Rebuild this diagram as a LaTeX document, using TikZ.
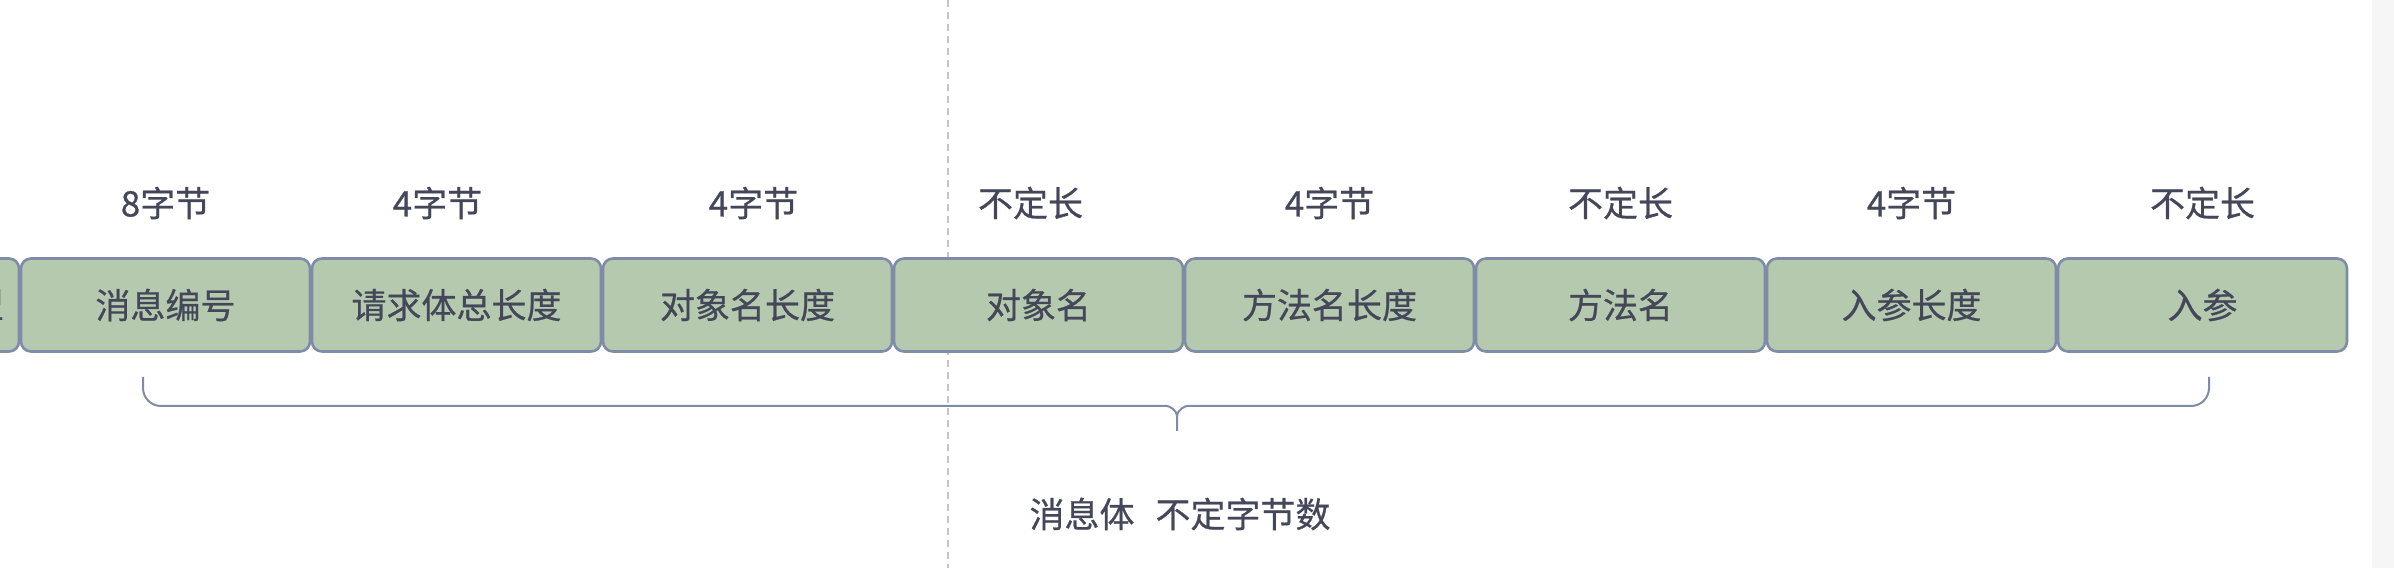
\documentclass[tikz,border=0pt]{standalone}
\usepackage{fontspec}
\newfontfamily\cjk[BoldFont={Noto Sans CJK SC}, BoldFeatures={FakeBold=0.6}]{Noto Sans CJK SC}
\usetikzlibrary{positioning}
\definecolor{fieldfill}{HTML}{B5C9AE}
\definecolor{fieldline}{HTML}{7F8CA8}
\definecolor{inkgray}{HTML}{444759}
\definecolor{guidegray}{HTML}{C4C4C4}
\definecolor{edgegray}{HTML}{F6F6F6}

\begin{document}
\begin{tikzpicture}[x=1pt, y=1pt, node distance={2pt},
    field/.style = {rectangle, rounded corners=10pt, draw=fieldline, line width=2.6pt, fill=fieldfill, minimum width=289pt, minimum height=93pt, inner sep=0pt, outer sep=0pt, text=inkgray, font=\cjk\fontsize{35}{40}\selectfont\bfseries},
    size/.style = {text=inkgray, inner sep=0pt, font=\cjk\fontsize{35}{40}\selectfont\bfseries},
    brace/.style = {draw=fieldline, line width=2pt}]
    \useasboundingbox (0,0) rectangle (2394,568);
    \fill[edgegray] (2372,0) rectangle (2394,568);

    % guide line behind the fields
    \coordinate (guidetop) at (948,568);
    \coordinate (guidebot) at (948,0);
    \draw[guidegray, line width=1.5pt, dash pattern=on 7pt off 5pt] (guidetop) -- (guidebot);

    \node[field] (1) at (165.5,263) {消息编号};
    \node[field] (0) [left=of 1] {};
    \node[size, anchor=east] (0tail) at ([xshift=-15pt]0.east) {类型};
    \node[field] (2) [right=of 1] {请求体总长度};
    \node[field] (3) [right=of 2] {对象名长度};
    \node[field] (4) [right=of 3] {对象名};
    \node[field] (5) [right=of 4] {方法名长度};
    \node[field] (6) [right=of 5] {方法名};
    \node[field] (7) [right=of 6] {入参长度};
    \node[field] (8) [right=of 7] {入参};

    \node[size] (s1) at ([yshift=102pt]1.center) {8字节};
    \node[size] (s2) at ([xshift=-19pt, yshift=102pt]2.center) {4字节};
    \node[size] (s3) at ([xshift=6pt, yshift=102pt]3.center) {4字节};
    \node[size] (s4) at ([xshift=-8pt, yshift=102pt]4.center) {不定长};
    \node[size] (s5) at ([yshift=102pt]5.center) {4字节};
    \node[size] (s6) at ([yshift=102pt]6.center) {不定长};
    \node[size] (s7) at ([yshift=102pt]7.center) {4字节};
    \node[size] (s8) at ([yshift=102pt]8.center) {不定长};

    % brace under the body
    \coordinate (braceL) at (143,191);
    \coordinate (braceR) at (2209,191);
    \coordinate (braceML) at (1149,162);
    \coordinate (braceMR) at (1205,162);
    \coordinate (braceMid) at (1177,151);
    \coordinate (braceTip) at (1177,137);
    \draw[brace] (braceL) [rounded corners=18pt] |- (braceML) [sharp corners] .. controls (1168,162) and (1177,159) .. (braceMid) -- (braceTip);
    \draw[brace] (braceR) [rounded corners=18pt] |- (braceMR) [sharp corners] .. controls (1186,162) and (1177,159) .. (braceMid);

    \node[size] (total) at (1180,54) {消息体\hspace{0.6em}不定字节数};
\end{tikzpicture}
\end{document}
